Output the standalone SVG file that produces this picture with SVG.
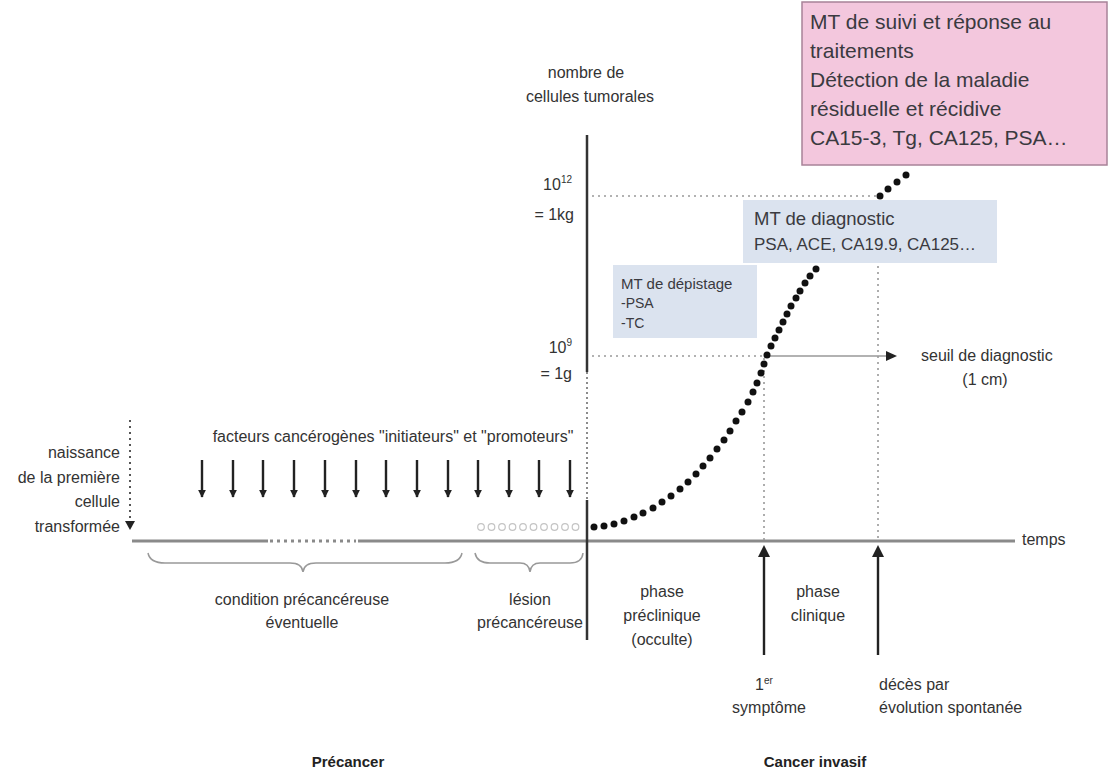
<svg xmlns="http://www.w3.org/2000/svg" width="1110" height="778" viewBox="0 0 1110 778">
<style>
.lbl{font-family:"Liberation Sans",Arial,sans-serif;font-size:16px;fill:#333}
.ctr{text-anchor:middle}
.end{text-anchor:end}
.bold{font-family:"Liberation Sans",Arial,sans-serif;font-size:15px;font-weight:bold;fill:#222;text-anchor:middle}
.box{font-family:"Liberation Sans",Arial,sans-serif;fill:#3a3a40}
.dot{fill:#111}
.hollow{fill:none;stroke:#c4c4c4;stroke-width:1.2}
.dotted{stroke:#999;stroke-width:1.6;stroke-dasharray:2 4;fill:none}
.brace{stroke:#999;stroke-width:1.5;fill:none}
.arr{stroke:#222;stroke-width:2.4;fill:none}
</style>
<defs>
<marker id="ah" viewBox="0 0 10 10" refX="9" refY="5" markerWidth="8" markerHeight="8" orient="auto" markerUnits="userSpaceOnUse">
<path d="M0,0 L10,5 L0,10 Z" fill="#222"/>
</marker>
</defs>
<rect width="1110" height="778" fill="#fff"/>

<g id="connectors">
<line x1="132" y1="541" x2="268" y2="541" stroke="#8a8a8a" stroke-width="3"/>
<line x1="270" y1="541" x2="356" y2="541" stroke="#8a8a8a" stroke-width="3" stroke-dasharray="3 4"/>
<line x1="358" y1="541" x2="1015" y2="541" stroke="#8a8a8a" stroke-width="3"/>
<line x1="587" y1="135" x2="587" y2="372" stroke="#333" stroke-width="2.5"/>
<line x1="587" y1="372" x2="587" y2="500" stroke="#666" stroke-width="1.5" stroke-dasharray="2 3"/>
<line x1="587" y1="500" x2="587" y2="640" stroke="#333" stroke-width="2.5"/>
<line class="dotted" x1="592" y1="196" x2="876" y2="196"/>
<line class="dotted" x1="592" y1="356" x2="764" y2="356"/>
<line x1="768" y1="356" x2="890" y2="356" stroke="#999" stroke-width="1.6"/>
<path d="M886,351 L897,356 L886,361 Z" fill="#222"/>
<line class="dotted" x1="764" y1="358" x2="764" y2="540"/>
<line class="dotted" x1="878" y1="200" x2="878" y2="540"/>
<line class="arr" x1="764" y1="655" x2="764" y2="556"/>
<path d="M758,557 L764,545 L770,557 Z" fill="#222"/>
<line class="arr" x1="878" y1="655" x2="878" y2="556"/>
<path d="M872,557 L878,545 L884,557 Z" fill="#222"/>
<line x1="130" y1="420" x2="130" y2="520" stroke="#555" stroke-width="2" stroke-dasharray="2 4"/>
<path d="M125,521 L130,530 L135,521 Z" fill="#222"/>
<g class="arr">
<line x1="202" y1="460" x2="202" y2="497" marker-end="url(#ah)"/>
<line x1="233" y1="460" x2="233" y2="497" marker-end="url(#ah)"/>
<line x1="263" y1="460" x2="263" y2="497" marker-end="url(#ah)"/>
<line x1="294" y1="460" x2="294" y2="497" marker-end="url(#ah)"/>
<line x1="325" y1="460" x2="325" y2="497" marker-end="url(#ah)"/>
<line x1="356" y1="460" x2="356" y2="497" marker-end="url(#ah)"/>
<line x1="386" y1="460" x2="386" y2="497" marker-end="url(#ah)"/>
<line x1="417" y1="460" x2="417" y2="497" marker-end="url(#ah)"/>
<line x1="448" y1="460" x2="448" y2="497" marker-end="url(#ah)"/>
<line x1="478" y1="460" x2="478" y2="497" marker-end="url(#ah)"/>
<line x1="509" y1="460" x2="509" y2="497" marker-end="url(#ah)"/>
<line x1="539" y1="460" x2="539" y2="497" marker-end="url(#ah)"/>
<line x1="570" y1="460" x2="570" y2="497" marker-end="url(#ah)"/>
</g>
<path class="brace" d="M148,553 Q150,563 165,563 L290,563 Q302,563 303,572 Q304,563 316,563 L445,563 Q460,563 462,553"/>
<path class="brace" d="M475,553 Q477,563 490,563 L520,563 Q529,563 530,572 Q531,563 540,563 L570,563 Q582,563 583,553"/>
</g>

<g id="curve">
<g class="hollow">
<circle cx="481" cy="527" r="3.3"/><circle cx="491.5" cy="527" r="3.3"/><circle cx="502" cy="527" r="3.3"/><circle cx="512.5" cy="527" r="3.3"/><circle cx="523" cy="527" r="3.3"/><circle cx="533.5" cy="527" r="3.3"/><circle cx="544" cy="527" r="3.3"/><circle cx="554.5" cy="527" r="3.3"/><circle cx="565" cy="527" r="3.3"/><circle cx="575.5" cy="527" r="3.3"/>
</g>
<g class="dot">
<circle cx="594" cy="527" r="3.5"/><circle cx="604" cy="526" r="3.5"/><circle cx="614" cy="524" r="3.5"/><circle cx="624" cy="521" r="3.5"/><circle cx="634" cy="517" r="3.5"/><circle cx="643" cy="513" r="3.5"/><circle cx="653" cy="508" r="3.5"/><circle cx="662" cy="502" r="3.5"/><circle cx="671" cy="496" r="3.5"/><circle cx="680" cy="489" r="3.5"/><circle cx="688" cy="482" r="3.5"/><circle cx="696" cy="474" r="3.5"/><circle cx="703" cy="466" r="3.5"/><circle cx="710" cy="458" r="3.5"/><circle cx="717" cy="449" r="3.5"/><circle cx="724" cy="440" r="3.5"/><circle cx="730" cy="431" r="3.5"/><circle cx="736" cy="421" r="3.5"/><circle cx="742" cy="412" r="3.5"/><circle cx="748" cy="402" r="3.5"/><circle cx="753" cy="392" r="3.5"/><circle cx="757" cy="383" r="3.5"/><circle cx="761" cy="373" r="3.5"/><circle cx="764" cy="364" r="3.5"/><circle cx="767" cy="355" r="3.5"/><circle cx="771" cy="346" r="3.5"/><circle cx="775" cy="338" r="3.5"/><circle cx="779" cy="330" r="3.5"/><circle cx="783" cy="322" r="3.5"/><circle cx="787" cy="314" r="3.5"/><circle cx="791" cy="306" r="3.5"/><circle cx="796" cy="298" r="3.5"/><circle cx="800" cy="291" r="3.5"/><circle cx="805" cy="283" r="3.5"/><circle cx="810" cy="276" r="3.5"/><circle cx="816" cy="269" r="3.5"/>
<circle cx="880" cy="196" r="3.5"/><circle cx="888" cy="189" r="3.5"/><circle cx="897" cy="182" r="3.5"/><circle cx="906" cy="175" r="3.5"/>
</g>
</g>

<g id="axis-labels">
<text class="lbl ctr" x="586" y="78">nombre de</text>
<text class="lbl ctr" x="590" y="102">cellules tumorales</text>
<text class="lbl end" x="572" y="190">10<tspan font-size="10" dy="-7">12</tspan></text>
<text class="lbl end" x="574" y="220">= 1kg</text>
<text class="lbl end" x="572" y="353">10<tspan font-size="10" dy="-7">9</tspan></text>
<text class="lbl end" x="572" y="379">= 1g</text>
<text class="lbl" x="1022" y="545">temps</text>
</g>

<g id="node-birth">
<text class="lbl end" x="120" y="458">naissance</text>
<text class="lbl end" x="120" y="483">de la première</text>
<text class="lbl end" x="120" y="507">cellule</text>
<text class="lbl end" x="120" y="532">transformée</text>
</g>

<g id="node-factors">
<text class="lbl ctr" x="393" y="442">facteurs cancérogènes "initiateurs" et "promoteurs"</text>
</g>

<g id="node-threshold">
<text class="lbl" x="921" y="361">seuil de diagnostic</text>
<text class="lbl ctr" x="985" y="385">(1 cm)</text>
</g>

<g id="node-condition">
<text class="lbl ctr" x="302" y="605">condition précancéreuse</text>
<text class="lbl ctr" x="302" y="628">éventuelle</text>
</g>
<g id="node-lesion">
<text class="lbl ctr" x="530" y="605">lésion</text>
<text class="lbl ctr" x="530" y="628">précancéreuse</text>
</g>
<g id="node-preclinique">
<text class="lbl ctr" x="662" y="597">phase</text>
<text class="lbl ctr" x="662" y="621">préclinique</text>
<text class="lbl ctr" x="662" y="645">(occulte)</text>
</g>
<g id="node-clinique">
<text class="lbl ctr" x="818" y="597">phase</text>
<text class="lbl ctr" x="818" y="621">clinique</text>
</g>
<g id="node-symptome">
<text class="lbl ctr" x="764" y="690">1<tspan font-size="10" dy="-6">er</tspan></text>
<text class="lbl ctr" x="769" y="713">symptôme</text>
</g>
<g id="node-deces">
<text class="lbl" x="879" y="690">décès par</text>
<text class="lbl" x="879" y="713">évolution spontanée</text>
</g>
<g id="node-precancer">
<text class="bold" x="348" y="767">Précancer</text>
</g>
<g id="node-invasif">
<text class="bold" x="815" y="767">Cancer invasif</text>
</g>

<g id="node-depistage">
<rect x="613" y="265" width="144" height="73" fill="#dbe3ef"/>
<text class="box" x="621" y="289" font-size="15">MT de dépistage</text>
<text class="box" x="621" y="308" font-size="14">-PSA</text>
<text class="box" x="621" y="328" font-size="14">-TC</text>
</g>

<g id="node-diagnostic">
<rect x="743" y="200" width="254" height="63" fill="#dbe3ef"/>
<text class="box" x="754" y="225" font-size="18.5">MT de diagnostic</text>
<text class="box" x="754" y="250" font-size="17">PSA, ACE, CA19.9, CA125…</text>
</g>

<g id="node-suivi">
<rect x="802" y="2" width="305" height="163" fill="#f3c7dd" stroke="#a88398" stroke-width="1.5"/>
<text class="box" x="810" y="29" font-size="21">MT de suivi et réponse au</text>
<text class="box" x="810" y="58" font-size="21">traitements</text>
<text class="box" x="810" y="87" font-size="21">Détection de la maladie</text>
<text class="box" x="810" y="116" font-size="21">résiduelle  et récidive</text>
<text class="box" x="810" y="145" font-size="21">CA15-3, Tg, CA125, PSA…</text>
</g>
</svg>
